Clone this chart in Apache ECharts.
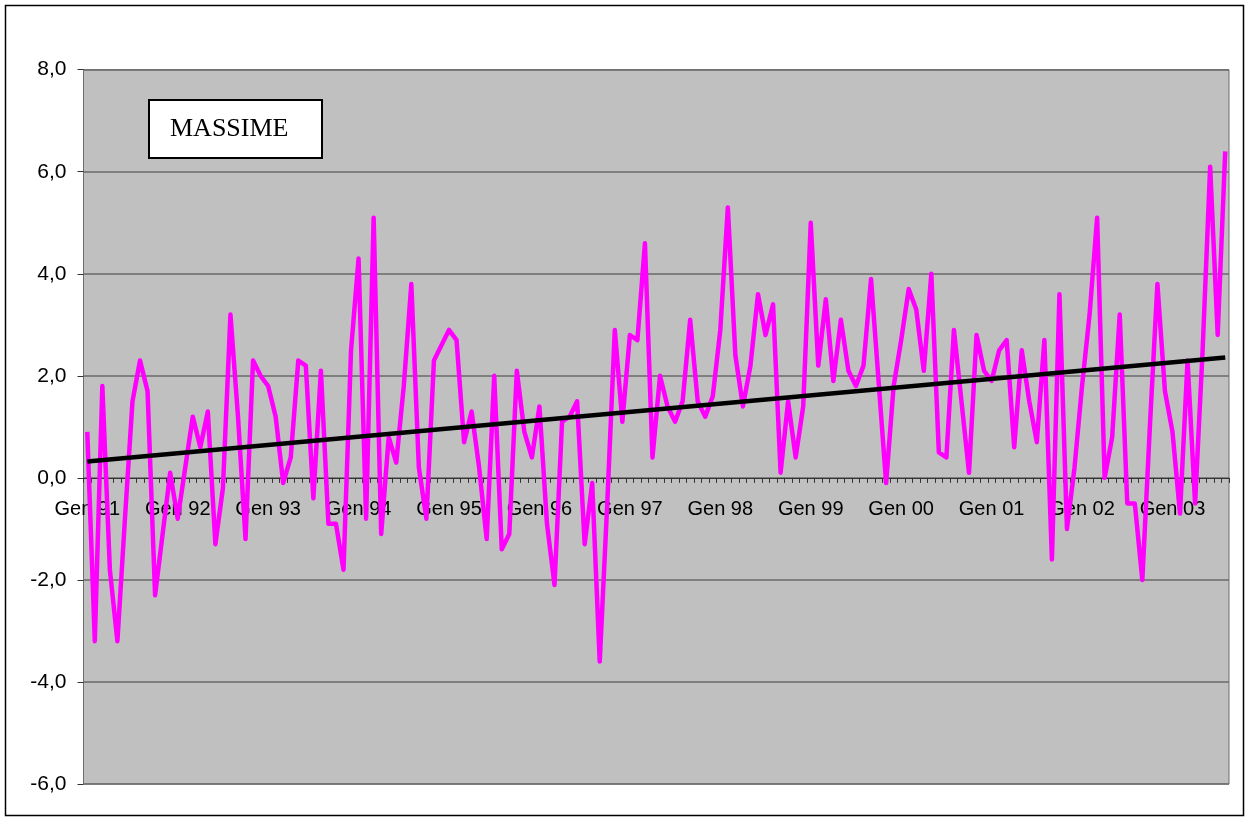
<!DOCTYPE html>
<html>
<head>
<meta charset="utf-8">
<script src="https://cdn.jsdelivr.net/npm/echarts@6/dist/echarts.min.js"></script>
<style>
html,body{margin:0;padding:0;background:#fff;}
#chart{width:1249px;height:821px;}
</style>
</head>
<body>
<div id="chart"></div>
<script>
// Month abbreviations (Italian) and years shown on the category axis
var monthNames = ['Gen','Feb','Mar','Apr','Mag','Giu','Lug','Ago','Set','Ott','Nov','Dic'];
var years = ['91','92','93','94','95','96','97','98','99','00','01','02','03'];
var lastYearMonths = 8; // Jan–Aug 2003

// Monthly series "MASSIME" (Jan 1991 – Aug 2003)
var massime = [
  0.9, -3.2, 1.8, -1.8, -3.2, -0.8, 1.5, 2.3, 1.7, -2.3, -1.1, 0.1,
  -0.8, 0.2, 1.2, 0.6, 1.3, -1.3, -0.2, 3.2, 1.2, -1.2, 2.3, 2.0,
  1.8, 1.2, -0.1, 0.4, 2.3, 2.2, -0.4, 2.1, -0.9, -0.9, -1.8, 2.5,
  4.3, -0.8, 5.1, -1.1, 0.8, 0.3, 1.8, 3.8, 0.2, -0.8, 2.3, 2.6,
  2.9, 2.7, 0.7, 1.3, 0.2, -1.2, 2.0, -1.4, -1.1, 2.1, 0.9, 0.4,
  1.4, -0.9, -2.1, 1.1, 1.2, 1.5, -1.3, -0.1, -3.6, -0.5, 2.9, 1.1,
  2.8, 2.7, 4.6, 0.4, 2.0, 1.4, 1.1, 1.5, 3.1, 1.5, 1.2, 1.6,
  2.9, 5.3, 2.4, 1.4, 2.2, 3.6, 2.8, 3.4, 0.1, 1.5, 0.4, 1.4,
  5.0, 2.2, 3.5, 1.9, 3.1, 2.1, 1.8, 2.2, 3.9, 1.9, -0.1, 1.8,
  2.7, 3.7, 3.3, 2.1, 4.0, 0.5, 0.4, 2.9, 1.5, 0.1, 2.8, 2.1,
  1.9, 2.5, 2.7, 0.6, 2.5, 1.5, 0.7, 2.7, -1.6, 3.6, -1.0, 0.2,
  1.8, 3.2, 5.1, 0.0, 0.8, 3.2, -0.5, -0.5, -2.0, 1.0, 3.8, 1.7,
  0.9, -0.7, 2.3, -0.5, 2.5, 6.1, 2.8, 6.4
];

// Linear trend line end values
var trendEnds = [0.32, 2.36];

// Y-axis ticks
var yMin = -6, yMax = 8, yStep = 2;

var categories = [];
years.forEach(function (y, yi) {
  var n = (yi === years.length - 1) ? lastYearMonths : 12;
  for (var m = 0; m < n; m++) categories.push(monthNames[m] + ' ' + y);
});

var gridTop = 69.7, gridBottom = 37, chartH = 821;
var plotH = chartH - gridTop - gridBottom;
// distance from the bottom of the plot to the value 0 line
var zeroOffset = plotH * (0 - yMin) / (yMax - yMin);

var chart = echarts.init(document.getElementById('chart'));
chart.setOption({
  animation: false,
  backgroundColor: '#ffffff',
  grid: {
    left: 83.5, right: 20, top: gridTop, bottom: gridBottom,
    show: true, backgroundColor: '#C0C0C0', borderColor: '#6e6e6e', borderWidth: 1
  },
  xAxis: [
    {
      type: 'category',
      data: categories,
      boundaryGap: true,
      position: 'bottom',
      offset: -zeroOffset,
      axisLine: { onZero: false, lineStyle: { color: '#333', width: 1 } },
      axisTick: { show: true, interval: 0, length: 5, lineStyle: { color: '#333' } },
      axisLabel: {
        interval: 11, margin: 22, color: '#000',
        fontFamily: 'Liberation Sans, Arial, sans-serif', fontSize: 20
      },
      splitLine: { show: false }
    }
  ],
  yAxis: {
    type: 'value',
    min: yMin, max: yMax, interval: yStep,
    axisLine: { show: true, lineStyle: { color: '#6e6e6e' } },
    axisTick: { show: true, length: 6, lineStyle: { color: '#333' } },
    axisLabel: {
      margin: 17, color: '#000',
      fontFamily: 'Liberation Sans, Arial, sans-serif', fontSize: 21,
      formatter: function (v) { return v.toFixed(1).replace('.', ','); }
    },
    splitLine: { show: true, lineStyle: { color: '#6a6a6a', width: 1.5 } }
  },
  series: [
    {
      name: 'MASSIME',
      type: 'line',
      data: massime,
      showSymbol: false,
      symbol: 'none',
      lineStyle: { color: '#FF00FF', width: 4.5, join: 'round' },
      z: 2
    },
    {
      name: 'trend',
      type: 'line',
      data: [[0, trendEnds[0]], [categories.length - 1, trendEnds[1]]],
      showSymbol: false,
      symbol: 'none',
      lineStyle: { color: '#000000', width: 4.5 },
      z: 3
    }
  ],
  graphic: [
    {
      type: 'rect', z: 100,
      shape: { x: 5.5, y: 5.5, width: 1238, height: 810 },
      style: { fill: 'none', stroke: '#000', lineWidth: 1.5 }
    },
    {
      type: 'rect', z: 100,
      shape: { x: 149, y: 100, width: 173, height: 58 },
      style: { fill: '#fff', stroke: '#000', lineWidth: 2 }
    },
    {
      type: 'text', z: 101,
      x: 170, y: 129,
      style: {
        text: 'MASSIME', fill: '#000',
        font: '26px "Liberation Serif", "Times New Roman", serif',
        textVerticalAlign: 'middle', verticalAlign: 'middle'
      }
    }
  ]
});
</script>
</body>
</html>
